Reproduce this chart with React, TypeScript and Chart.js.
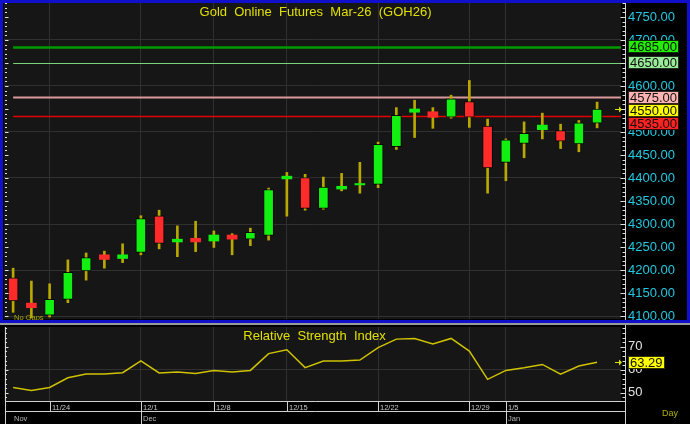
import React, { useEffect, useRef } from 'react';
import { Chart, registerables } from 'chart.js';
Chart.register(...registerables);

const FONT = 'Arial, "Liberation Sans", sans-serif';

const opens = [4183, 4128, 4102, 4136, 4198, 4233, 4225, 4238, 4318, 4261, 4269, 4263, 4276, 4267, 4275, 4398, 4401, 4334, 4376, 4385, 4386, 4468, 4543, 4544, 4532, 4566, 4513, 4434, 4475, 4505, 4503, 4474, 4519];
const highs = [4204, 4176, 4170, 4222, 4237, 4241, 4257, 4318, 4330, 4296, 4306, 4285, 4279, 4291, 4378, 4412, 4408, 4402, 4410, 4434, 4478, 4553, 4569, 4553, 4580, 4612, 4528, 4485, 4522, 4541, 4517, 4525, 4565];
const lows = [4108, 4096, 4098, 4129, 4178, 4204, 4216, 4233, 4246, 4229, 4240, 4249, 4233, 4253, 4265, 4317, 4330, 4332, 4372, 4367, 4379, 4462, 4488, 4508, 4530, 4510, 4367, 4394, 4444, 4485, 4464, 4457, 4509];
const closes = [4133, 4118, 4136, 4195, 4227, 4223, 4233, 4312, 4258, 4267, 4261, 4276, 4267, 4282, 4375, 4404, 4334, 4380, 4382, 4388, 4473, 4536, 4550, 4532, 4572, 4532, 4422, 4483, 4497, 4515, 4480, 4520, 4550];
const rsiValues = [52.3, 51.0, 52.3, 56.5, 58.1, 58.1, 58.7, 63.8, 58.6, 59.0, 58.4, 59.7, 59.0, 59.7, 67.0, 68.7, 60.9, 63.8, 63.8, 64.2, 69.6, 73.3, 73.6, 71.2, 73.6, 68.1, 55.8, 59.7, 60.9, 62.3, 58.1, 61.6, 63.29];

const weekTickIdx = [2, 7, 11, 15, 20, 25, 27];
const weekTickLabels = ['11/24', '12/1', '12/8', '12/15', '12/22', '12/29', '1/5'];
const monthIdx = [7, 27];
const monthLabels = ['Dec', 'Jan'];
const firstMonthLabel = 'Nov';

const levelValues = [4685, 4650, 4575, 4535];
const levelLineColors = ['#009a00', '#78d478', '#d99a9a', '#e00000'];
const levelLineWidths = [2.5, 1, 2, 1.5];
const levelTagColors = ['#22ee00', '#98ec98', '#ffb4b4', '#ff2222'];

const titleText = 'Gold  Online  Futures  Mar-26  (GOH26)';
const rsiTitleText = 'Relative  Strength  Index';

const priceMin = 4093.5;
const priceMax = 4780.4;
const rsiMin = 46.4;
const rsiMax = 78.57;
const xMin = -0.5;
const xMax = 33.31;

const GRID = '#303030';
const PLOT_BG = '#161616';
const AXIS_LINE_X = 625.5;

type Tag = { y: number; text: string; bg: string; fg: string };

function drawTags(ctx: CanvasRenderingContext2D, tags: Tag[], x: number) {
  const h = 13;
  tags.sort((a, b) => a.y - b.y);
  let lastBottom = -Infinity;
  ctx.font = `13px ${FONT}`;
  ctx.textBaseline = 'middle';
  ctx.textAlign = 'left';
  for (const t of tags) {
    let top = Math.round(t.y - h / 2);
    if (top < lastBottom) top = lastBottom;
    const w = Math.ceil(ctx.measureText(t.text).width) + 4;
    ctx.fillStyle = t.bg;
    ctx.fillRect(x, top, w, h);
    ctx.strokeStyle = 'rgba(0,0,0,0.8)';
    ctx.lineWidth = 1;
    ctx.strokeRect(x + 0.5, top + 0.5, w - 1, h - 1);
    ctx.fillStyle = t.fg;
    ctx.fillText(t.text, x + 2, top + h / 2 + 1);
    lastBottom = top + h;
  }
}

function drawArrow(ctx: CanvasRenderingContext2D, x: number, y: number) {
  ctx.save();
  ctx.strokeStyle = '#e0e000';
  ctx.fillStyle = '#e0e000';
  ctx.lineWidth = 1;
  ctx.beginPath();
  ctx.moveTo(x - 5, y + 0.5);
  ctx.lineTo(x, y + 0.5);
  ctx.stroke();
  ctx.beginPath();
  ctx.moveTo(x + 2, y + 0.5);
  ctx.lineTo(x - 1, y - 2.5);
  ctx.lineTo(x - 1, y + 3.5);
  ctx.closePath();
  ctx.fill();
  ctx.restore();
}

function drawSideTicks(ctx: CanvasRenderingContext2D, scale: any, from: number, to: number, step: number, major: number, leftX: number, rightX: number) {
  ctx.save();
  ctx.strokeStyle = '#e0e0e0';
  ctx.lineWidth = 1;
  ctx.beginPath();
  for (let v = from; v <= to + 1e-6; v += step) {
    const y = Math.round(scale.getPixelForValue(v)) + 0.5;
    const isMajor = Math.abs(v / major - Math.round(v / major)) < 1e-6;
    const lenR = isMajor ? 5 : 3;
    const lenL = isMajor ? 3.5 : 2;
    ctx.moveTo(rightX - lenR, y);
    ctx.lineTo(rightX, y);
    ctx.moveTo(leftX, y);
    ctx.lineTo(leftX + lenL, y);
  }
  ctx.stroke();
  ctx.restore();
}

const mainPlugin = {
  id: 'mainDeco',
  beforeDraw(chart: any) {
    const { ctx, chartArea: a, width, height } = chart;
    ctx.save();
    ctx.fillStyle = '#000';
    ctx.fillRect(0, 0, width, height);
    ctx.fillStyle = PLOT_BG;
    ctx.fillRect(a.left, a.top, a.right - a.left, a.bottom - a.top);
    ctx.restore();
  },
  beforeDatasetsDraw(chart: any) {
    const { ctx, chartArea: a, scales } = chart;
    const ys = scales.y;
    const xs = scales.x;
    ctx.save();
    const x0 = xs.getPixelForValue(0);
    levelValues.forEach((v, i) => {
      const y = Math.round(ys.getPixelForValue(v)) + 0.5;
      ctx.strokeStyle = levelLineColors[i];
      ctx.lineWidth = levelLineWidths[i];
      ctx.beginPath();
      ctx.moveTo(x0, y);
      ctx.lineTo(a.right, y);
      ctx.stroke();
    });
    ctx.fillStyle = '#a8a800';
    ctx.font = `7.5px ${FONT}`;
    ctx.textAlign = 'left';
    ctx.textBaseline = 'alphabetic';
    ctx.fillText('No Gaps', 14, 320);
    ctx.restore();
  },
  afterDraw(chart: any) {
    const { ctx, chartArea: a, scales, width, height } = chart;
    const ys = scales.y;
    ctx.save();
    ctx.strokeStyle = '#d0d0d0';
    ctx.lineWidth = 1;
    ctx.beginPath();
    ctx.moveTo(AXIS_LINE_X, 3);
    ctx.lineTo(AXIS_LINE_X, height);
    ctx.stroke();
    drawSideTicks(ctx, ys, 4100, 4780, 10, 50, 5, AXIS_LINE_X);
    ctx.fillStyle = '#e0e000';
    ctx.font = `13px ${FONT}`;
    ctx.textAlign = 'center';
    ctx.textBaseline = 'alphabetic';
    ctx.fillText(titleText, (a.left + a.right) / 2 + 3, 16);
    const last = closes[closes.length - 1];
    const tags: Tag[] = levelValues.map((v, i) => ({
      y: ys.getPixelForValue(v), text: v.toFixed(2), bg: levelTagColors[i], fg: '#111',
    }));
    tags.push({ y: ys.getPixelForValue(last), text: last.toFixed(2), bg: '#ffff00', fg: '#111' });
    drawTags(ctx, tags, 628);
    drawArrow(ctx, 620, Math.round(ys.getPixelForValue(last)));
    ctx.strokeStyle = '#1010cc';
    ctx.lineWidth = 3;
    ctx.strokeRect(1.5, 1.5, width - 3, height - 3);
    ctx.restore();
  },
};

const rsiPlugin = {
  id: 'rsiDeco',
  beforeDraw(chart: any) {
    const { ctx, chartArea: a, width, height } = chart;
    ctx.save();
    ctx.fillStyle = '#000';
    ctx.fillRect(0, 0, width, height);
    ctx.fillStyle = '#9a9a9a';
    ctx.fillRect(0, 0, width, 2);
    ctx.fillStyle = PLOT_BG;
    ctx.fillRect(a.left, a.top, a.right - a.left, a.bottom - a.top);
    ctx.restore();
  },
  afterDraw(chart: any) {
    const { ctx, chartArea: a, scales, height } = chart;
    const ys = scales.y;
    const xs = scales.x;
    ctx.save();
    ctx.strokeStyle = '#d0d0d0';
    ctx.lineWidth = 1;
    ctx.beginPath();
    ctx.moveTo(AXIS_LINE_X, 2);
    ctx.lineTo(AXIS_LINE_X, height);
    ctx.moveTo(5.5, a.top);
    ctx.lineTo(5.5, height);
    const b = Math.round(a.bottom) + 0.5;
    ctx.moveTo(5, b);
    ctx.lineTo(AXIS_LINE_X, b);
    ctx.moveTo(5, b + 10);
    ctx.lineTo(AXIS_LINE_X, b + 10);
    weekTickIdx.forEach((idx) => {
      const x = Math.round(xs.getPixelForValue(idx)) + 0.5;
      ctx.moveTo(x, b);
      ctx.lineTo(x, b + 10);
    });
    monthIdx.forEach((idx) => {
      const x = Math.round(xs.getPixelForValue(idx)) + 0.5;
      ctx.moveTo(x, b + 10);
      ctx.lineTo(x, height);
    });
    ctx.stroke();
    drawSideTicks(ctx, ys, 48, 78, 2, 10, 5, AXIS_LINE_X);
    ctx.font = `7.5px ${FONT}`;
    ctx.textAlign = 'left';
    ctx.textBaseline = 'alphabetic';
    ctx.fillStyle = '#c8c8c8';
    weekTickIdx.forEach((idx, i) => {
      const x = Math.round(xs.getPixelForValue(idx));
      ctx.fillText(weekTickLabels[i], x + 2, b + 8.5);
    });
    ctx.fillStyle = '#b8b8b8';
    ctx.fillText(firstMonthLabel, 14, b + 19);
    monthIdx.forEach((idx, i) => {
      const x = Math.round(xs.getPixelForValue(idx));
      ctx.fillText(monthLabels[i], x + 2, b + 19);
    });
    ctx.fillStyle = '#b0b000';
    ctx.font = `9px ${FONT}`;
    ctx.fillText('Day', 662, 93);
    ctx.fillStyle = '#e0e000';
    ctx.font = `13px ${FONT}`;
    ctx.textAlign = 'center';
    ctx.fillText(rsiTitleText, (a.left + a.right) / 2 + 2, 17);
    const last = rsiValues[rsiValues.length - 1];
    drawTags(ctx, [{ y: ys.getPixelForValue(last), text: last.toFixed(2), bg: '#ffff00', fg: '#111' }], 628);
    drawArrow(ctx, 620, Math.round(ys.getPixelForValue(last)));
    ctx.restore();
  },
};

export default function App() {
  const ref1 = useRef<HTMLCanvasElement>(null);
  const ref2 = useRef<HTMLCanvasElement>(null);

  useEffect(() => {
    document.body.style.margin = '0';
    document.body.style.background = '#000';

    const bodyData = opens.map((o, i) => ({ x: i, y: [o, closes[i]] }));
    const wickData = lows.map((l, i) => ({ x: i, y: [l, highs[i]] }));
    const bodyColors = opens.map((o, i) => (closes[i] >= o ? '#12f012' : '#ff2b2b'));
    const bodyBorders = opens.map((o, i) => (Math.abs(closes[i] - o) < 14 ? 0 : 1));

    const xScaleCommon = (h: number) => ({
      type: 'linear',
      min: xMin,
      max: xMax,
      offset: false,
      afterBuildTicks: (s: any) => {
        s.ticks = weekTickIdx.map((v) => ({ value: v }));
      },
      afterFit: (s: any) => {
        s.height = h;
        s.paddingLeft = 0;
        s.paddingRight = 0;
      },
      ticks: { display: false, autoSkip: false },
      border: { display: false },
      grid: { color: GRID, drawTicks: false, offset: false, lineWidth: 1 },
    });

    const c1 = new Chart(ref1.current as HTMLCanvasElement, {
      type: 'bar',
      data: {
        datasets: [
          {
            data: bodyData as any,
            backgroundColor: bodyColors,
            borderColor: 'rgba(0,0,0,0.85)',
            borderWidth: bodyBorders as any,
            borderSkipped: false,
            barThickness: 10,
            grouped: false,
          } as any,
          {
            data: wickData as any,
            backgroundColor: '#b8a800',
            borderWidth: 0,
            barThickness: 2,
            grouped: false,
          } as any,
        ],
      },
      options: {
        animation: false,
        responsive: false,
        devicePixelRatio: 1,
        layout: { padding: { left: 4, top: 3, right: 0, bottom: 4 } },
        plugins: { legend: { display: false }, tooltip: { enabled: false } },
        scales: {
          x: xScaleCommon(0) as any,
          y: {
            type: 'linear',
            position: 'right',
            min: priceMin,
            max: priceMax,
            afterFit: (s: any) => {
              s.width = 69;
              s.paddingTop = 0;
              s.paddingBottom = 0;
            },
            ticks: {
              stepSize: 50,
              includeBounds: false,
              color: '#22c8e0',
              font: { family: FONT, size: 13 },
              padding: 7,
              autoSkip: false,
              callback: (v: any) => Number(v).toFixed(2),
            },
            border: { display: false },
            grid: {
              drawTicks: false,
              color: (c: any) => (c.tick && Math.round(c.tick.value) % 100 === 0 ? GRID : 'rgba(0,0,0,0)'),
            },
          },
        },
      },
      plugins: [mainPlugin],
    } as any);

    const c2 = new Chart(ref2.current as HTMLCanvasElement, {
      type: 'line',
      data: {
        datasets: [
          {
            data: rsiValues.map((v, i) => ({ x: i, y: v })),
            borderColor: '#cfc200',
            borderWidth: 1.5,
            pointRadius: 0,
            tension: 0,
            fill: false,
          },
        ],
      },
      options: {
        animation: false,
        responsive: false,
        devicePixelRatio: 1,
        layout: { padding: { left: 4, top: 4, right: 0, bottom: 0 } },
        plugins: { legend: { display: false }, tooltip: { enabled: false } },
        scales: {
          x: xScaleCommon(23) as any,
          y: {
            type: 'linear',
            position: 'right',
            min: rsiMin,
            max: rsiMax,
            afterFit: (s: any) => {
              s.width = 69;
              s.paddingTop = 0;
              s.paddingBottom = 0;
            },
            ticks: {
              stepSize: 10,
              includeBounds: false,
              color: '#e0e0e0',
              font: { family: FONT, size: 13 },
              padding: 7,
              autoSkip: false,
            },
            border: { display: false },
            grid: {
              drawTicks: false,
              color: (c: any) => (c.tick && Math.round(c.tick.value) % 20 === 0 ? GRID : 'rgba(0,0,0,0)'),
            },
          },
        },
      },
      plugins: [rsiPlugin],
    } as any);

    return () => {
      c1.destroy();
      c2.destroy();
    };
  }, []);

  return (
    <div style={{ position: 'relative', width: 690, height: 424, background: '#000', overflow: 'hidden' }}>
      <canvas ref={ref1} width={690} height={323} style={{ position: 'absolute', left: 0, top: 0, display: 'block' }} />
      <canvas ref={ref2} width={690} height={101} style={{ position: 'absolute', left: 0, top: 323, display: 'block' }} />
    </div>
  );
}
